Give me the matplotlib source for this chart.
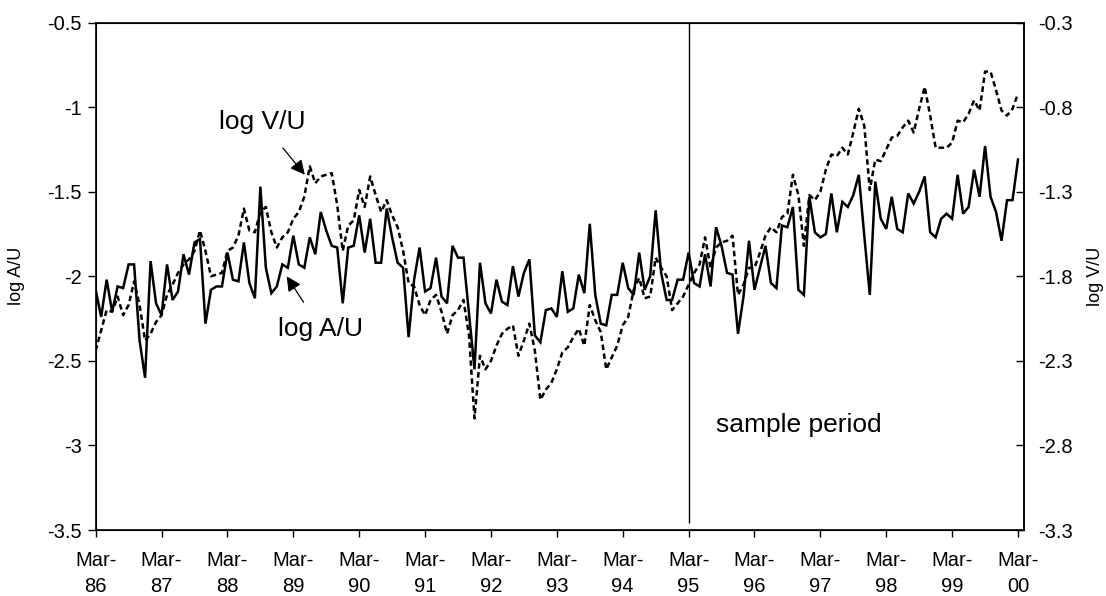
import matplotlib
matplotlib.use('Agg')
import matplotlib.pyplot as plt

plt.rcParams['font.family'] = ['Liberation Sans', 'DejaVu Sans']

# monthly, Mar-86 .. Mar-00
log_au = [
    -2.08, -2.24, -2.02, -2.21, -2.06, -2.07, -1.93, -1.93, -2.38, -2.60,
    -1.91, -2.16, -2.23, -1.93, -2.14, -2.09, -1.87, -1.99, -1.80, -1.78,
    -2.28, -2.08, -2.06, -2.06, -1.86, -2.02, -2.03, -1.80, -2.04, -2.13,
    -1.47, -1.95, -2.10, -2.06, -1.93, -1.95, -1.76, -1.93, -1.95, -1.77,
    -1.87, -1.62, -1.73, -1.82, -1.83, -2.16, -1.83, -1.82, -1.64, -1.86,
    -1.66, -1.92, -1.92, -1.60, -1.77, -1.92, -1.95, -2.36, -2.02, -1.83,
    -2.09, -2.07, -1.89, -2.12, -2.16, -1.82, -1.89, -1.89, -2.22, -2.55,
    -1.92, -2.16, -2.22, -2.02, -2.15, -2.17, -1.94, -2.12, -1.98, -1.90,
    -2.35, -2.39, -2.20, -2.19, -2.24, -1.97, -2.21, -2.19, -1.99, -2.10,
    -1.69, -2.11, -2.28, -2.29, -2.11, -2.11, -1.92, -2.07, -2.11, -1.86,
    -2.08, -2.00, -1.61, -1.98, -2.14, -2.14, -2.02, -2.02, -1.86, -2.04,
    -2.06, -1.87, -2.06, -1.71, -1.82, -1.98, -1.99, -2.34, -2.12, -1.79,
    -2.08, -1.95, -1.82, -2.04, -2.07, -1.70, -1.71, -1.59, -2.08, -2.11,
    -1.53, -1.74, -1.77, -1.75, -1.51, -1.74, -1.56, -1.59, -1.52, -1.40,
    -1.76, -2.11, -1.44, -1.66, -1.72, -1.53, -1.72, -1.74, -1.51, -1.57,
    -1.50, -1.41, -1.74, -1.77, -1.66, -1.63, -1.66, -1.40, -1.63, -1.59,
    -1.37, -1.53, -1.23, -1.53, -1.62, -1.79, -1.55, -1.55, -1.31,
]

log_vu = [
    -2.24, -2.12, -2.00, -2.01, -1.92, -2.03, -1.97, -1.83, -1.97, -2.18,
    -2.14, -2.07, -2.03, -1.91, -1.85, -1.78, -1.73, -1.70, -1.65, -1.53,
    -1.65, -1.80, -1.79, -1.78, -1.65, -1.63, -1.56, -1.40, -1.53, -1.54,
    -1.42, -1.39, -1.54, -1.63, -1.57, -1.54, -1.46, -1.42, -1.33, -1.15,
    -1.25, -1.21, -1.20, -1.19, -1.38, -1.65, -1.50, -1.47, -1.29, -1.39,
    -1.21, -1.32, -1.42, -1.35, -1.44, -1.51, -1.65, -1.84, -1.86, -1.97,
    -2.03, -1.94, -1.91, -2.01, -2.14, -2.03, -2.00, -1.94, -2.15, -2.64,
    -2.27, -2.35, -2.30, -2.21, -2.14, -2.11, -2.09, -2.27, -2.18, -2.08,
    -2.24, -2.53, -2.47, -2.43, -2.35, -2.25, -2.22, -2.16, -2.11, -2.21,
    -1.97, -2.06, -2.13, -2.35, -2.28, -2.21, -2.09, -2.04, -1.88, -1.81,
    -1.93, -1.92, -1.69, -1.75, -1.80, -2.00, -1.96, -1.92, -1.85, -1.78,
    -1.73, -1.57, -1.75, -1.63, -1.60, -1.59, -1.56, -1.91, -1.85, -1.75,
    -1.75, -1.66, -1.56, -1.51, -1.54, -1.45, -1.43, -1.20, -1.32, -1.62,
    -1.32, -1.35, -1.30, -1.17, -1.08, -1.09, -1.04, -1.08, -0.95, -0.81,
    -0.91, -1.29, -1.11, -1.12, -1.05, -0.98, -0.97, -0.92, -0.88, -0.95,
    -0.81, -0.68, -0.85, -1.04, -1.04, -1.04, -1.01, -0.88, -0.89, -0.84,
    -0.76, -0.82, -0.59, -0.59, -0.70, -0.82, -0.85, -0.81, -0.72,
]

tick_labels = ['Mar-\n%02d' % (y % 100) for y in range(1986, 2001)]
left_ticks = [-3.5, -3, -2.5, -2, -1.5, -1, -0.5]
right_ticks = [-3.3, -2.8, -2.3, -1.8, -1.3, -0.8, -0.3]

months = list(range(len(log_au)))

fig = plt.figure(figsize=(11.06, 5.96), dpi=100)
ax = fig.add_axes([0.0865, 0.1107, 0.8394, 0.8515])
ax2 = ax.twinx()

ax.plot(months, log_au, color='black', lw=1.8, solid_joinstyle='miter')
ax2.plot(months, log_vu, color='black', lw=1.8, linestyle=(0, (2.2, 1.4)))

ax.set_xlim(0, 169.1)
ax.set_ylim(-3.5, -0.5)
ax2.set_ylim(-3.3, -0.3)

ax.set_xticks(range(0, 169, 12))
ax.set_xticklabels(tick_labels, fontsize=14.5, linespacing=1.45)
ax.set_yticks(left_ticks)
ax.set_yticklabels(['%g' % v for v in left_ticks], fontsize=14.5)
ax2.set_yticks(right_ticks)
ax2.set_yticklabels(['%g' % v for v in right_ticks], fontsize=14.5)

ax.tick_params(axis='x', direction='out', length=5, width=1, pad=10)
ax.tick_params(axis='y', direction='out', length=6, width=1, pad=4)
ax2.tick_params(axis='y', direction='in', length=6, width=1, pad=10)

for s in ax.spines.values():
    s.set_linewidth(1.2)
ax2.spines['right'].set_linewidth(1.2)

ax.set_ylabel('log A/U', fontsize=13, labelpad=16)
ax2.set_ylabel('log V/U', fontsize=13, labelpad=10)

# sample period marker
ax.vlines(108, -3.46, -0.5, color='black', lw=1)
ax.text(128.1, -2.88, 'sample period', fontsize=19, ha='center', va='center')

ax.annotate('log V/U', xy=(38.1, -1.40), xytext=(30.3, -1.09),
            fontsize=19, ha='center', va='center',
            arrowprops=dict(arrowstyle='-|>', color='black', lw=0.9,
                            mutation_scale=22, shrinkA=10, shrinkB=0))
ax.annotate('log A/U', xy=(34.8, -2.00), xytext=(41.0, -2.31),
            fontsize=19, ha='center', va='center',
            arrowprops=dict(arrowstyle='-|>', color='black', lw=0.9,
                            mutation_scale=22, shrinkA=10, shrinkB=0))

fig.savefig('out.png', dpi=100)
